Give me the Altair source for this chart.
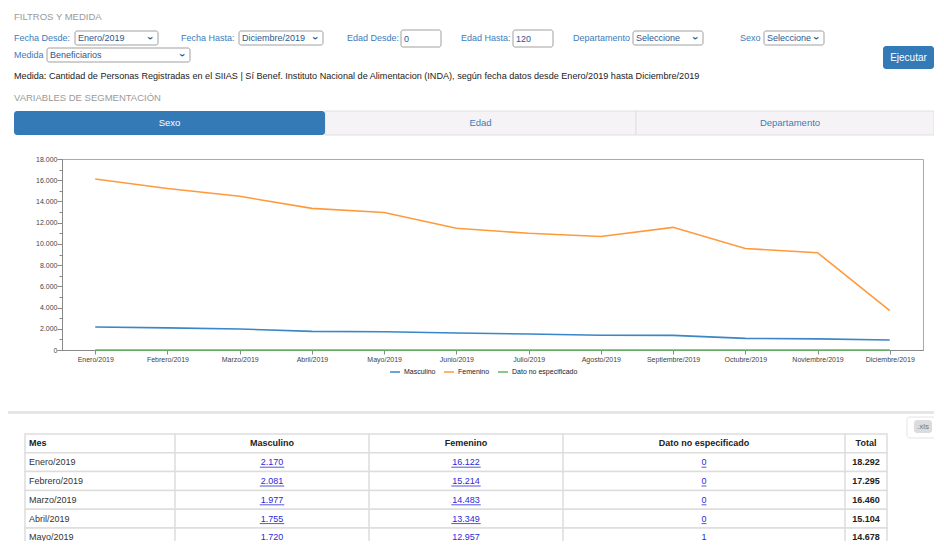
import altair as alt
import pandas as pd

# ---------------- data ----------------
meses = ["Enero/2019", "Febrero/2019", "Marzo/2019", "Abril/2019", "Mayo/2019", "Junio/2019",
         "Julio/2019", "Agosto/2019", "Septiembre/2019", "Octubre/2019", "Noviembre/2019", "Diciembre/2019"]
masculino = [2170, 2081, 1977, 1755, 1720, 1600, 1510, 1385, 1380, 1100, 1045, 945]
femenino = [16122, 15214, 14483, 13349, 12957, 11470, 11000, 10690, 11560, 9560, 9170, 3700]
dato_no_especificado = [0, 0, 0, 0, 1, 1, 1, 1, 1, 1, 1, 0]
series = ["Masculino", "Femenino", "Dato no especificado"]
colores = ["#3a86c6", "#ff9a3c", "#5cb85c"]
y_ticks = list(range(0, 18001, 1000))
filas_tabla = 5

FONT = "Liberation Sans"

rows = []
for i, m in enumerate(meses):
    for s, vals in zip(series, [masculino, femenino, dato_no_especificado]):
        rows.append({"mes": m, "serie": s, "valor": vals[i]})
df_long = pd.DataFrame(rows)


def fmt(v):
    return f"{v:,}".replace(",", ".")


tab = pd.DataFrame({
    "fila": meses,
    "masc": [fmt(v) for v in masculino],
    "fem": [fmt(v) for v in femenino],
    "dato": [fmt(v) for v in dato_no_especificado],
    "total": [fmt(a + b + c) for a, b, c in zip(masculino, femenino, dato_no_especificado)],
}).iloc[:filas_tabla]

one = pd.DataFrame({"k": [0]})

# ---------------- line chart ----------------
line = alt.Chart(df_long).mark_line(strokeWidth=1.6).encode(
    x=alt.X("mes:O", sort=meses, scale=alt.Scale(type="point", padding=0.46),
            axis=alt.Axis(title=None, labelAngle=0, labelFontSize=7, labelColor="#444",
                          labelFont=FONT, tickColor="#888", tickSize=4, domainColor="#888",
                          labelPadding=1, grid=False, labelOverlap=False)),
    y=alt.Y("valor:Q", scale=alt.Scale(domain=[0, 18000], nice=False),
            axis=alt.Axis(title=None, values=y_ticks, grid=False, labelOverlap=False,
                          labelExpr="datum.value % 2000 === 0 ? replace(format(datum.value, ','), ',', '.') : ''",
                          tickSize={"condition": {"test": "datum.value % 2000 === 0", "value": 5}, "value": 3},
                          labelFontSize=7, labelColor="#444", labelFont=FONT,
                          domainColor="#888", tickColor="#888", labelPadding=0)),
    color=alt.Color("serie:N", sort=series, scale=alt.Scale(domain=series, range=colores),
                    legend=alt.Legend(orient="none", legendX=327, legendY=207, direction="horizontal",
                                      title=None, symbolType="stroke", symbolStrokeWidth=1.5,
                                      symbolSize=100, labelFontSize=7, labelFont=FONT,
                                      labelColor="#222", columnPadding=5, labelOffset=3)),
    order=alt.Order("serie:N"),
)

layers = [line]


def box(x0, x1, y0, y1, fill, stroke=None, sw=1.0, cr=0):
    kw = dict(fill=fill, cornerRadius=cr)
    if stroke:
        kw.update(stroke=stroke, strokeWidth=sw)
    return alt.Chart(one).mark_rect(**kw).encode(
        x=alt.value(x0), x2=alt.value(x1), y=alt.value(y0), y2=alt.value(y1))


def txt(s, x, y, size=9, color="#222", align="left", weight="normal", font=FONT, angle=0):
    kw = dict(text=s, align=align, baseline="middle", fontSize=size, color=color,
              fontWeight=weight, font=font)
    if angle:
        kw["angle"] = angle
    return alt.Chart(one).mark_text(**kw).encode(x=alt.value(x), y=alt.value(y))


LBL = "#3a7cbd"
SEL = "#2a5890"
GRAY = "#9a9a9a"

# header
layers.append(txt("FILTROS Y MEDIDA", -48, -142, size=9.5, color=GRAY))
r1 = -121
layers.append(txt("Fecha Desde:", -48, r1, size=9, color=LBL))
layers.append(txt("Fecha Hasta:", 119, r1, size=9, color=LBL))
layers.append(txt("Edad Desde:", 285, r1, size=9, color=LBL))
layers.append(txt("Edad Hasta:", 399, r1, size=9, color=LBL))
layers.append(txt("Departamento", 511, r1, size=9, color=LBL))
layers.append(txt("Sexo", 678, r1, size=9, color=LBL))


def select(x0, x1, y0, y1, label, chevron=True):
    out = [box(x0, x1, y0, y1, "white", "#a0a0a0", 1, 2),
           txt(label, x0 + 3, (y0 + y1) / 2, size=9, color=SEL)]
    if chevron:
        out.append(txt("›", x1 - 8, (y0 + y1) / 2, size=11, color=SEL, align="center",
                       weight="bold", angle=90))
    return out


layers += select(13, 96, -128, -114, "Enero/2019")
layers += select(177, 261, -128, -114, "Diciembre/2019")
layers += select(339, 379, -129, -112, "0", chevron=False)
layers += select(451, 491, -129, -112, "120", chevron=False)
layers += select(571, 641, -128, -114, "Seleccione")
layers += select(702, 762, -128, -114, "Seleccione")

layers.append(txt("Medida", -48, -104, size=9, color=LBL))
layers += select(-15, 128, -111, -97, "Beneficiarios")

layers.append(box(821, 872, -113, -90, "#337ab7", cr=3))
layers.append(txt("Ejecutar", 846.5, -101.5, size=10, color="white", align="center"))

layers.append(txt("Medida: Cantidad de Personas Registradas en el SIIAS | Sí Benef. Instituto Nacional de "
                  "Alimentacion (INDA), según fecha datos desde Enero/2019 hasta Diciembre/2019",
                  -48, -83, size=9.1, color="#222"))
layers.append(txt("VARIABLES DE SEGMENTACIÓN", -48, -61, size=9.5, color=GRAY))

# tabs
layers.append(box(263, 574, -48, -24, "#f6f3f6", "#e2dfe2", 1))
layers.append(box(574, 872, -48, -24, "#f6f3f6", "#e2dfe2", 1))
layers.append(box(-48, 263, -48, -24, "#337ab7", cr=3))
layers.append(txt("Sexo", 107.5, -36, size=9.5, color="white", align="center"))
layers.append(txt("Edad", 418.5, -36, size=9.5, color=LBL, align="center"))
layers.append(txt("Departamento", 728, -36, size=9.5, color=LBL, align="center"))

# separator and xls button
layers.append(box(-54, 872, 252, 255, "#e6e6e6"))
layers.append(box(845, 874, 258, 279, "white", "#e4e4e4", 1, 3))
layers.append(box(852, 870, 261, 274, "#dcdcdc", cr=3))
layers.append(txt(".xls", 861, 267.5, size=8, color="#777", align="center"))

# ---------------- table ----------------
T_TOP = 275
STEP = 18.8
row_scale = alt.Scale(domain=["Mes"] + meses[:filas_tabla],
                      range=[T_TOP, T_TOP + STEP * (filas_tabla + 1)],
                      paddingInner=0, paddingOuter=0)
hdr = pd.DataFrame({"fila": ["Mes"]})
tab_rows = pd.concat([hdr, tab[["fila"]]], ignore_index=True)

layers.append(alt.Chart(tab_rows).mark_rect(fill="white", stroke="#dddddd", strokeWidth=1.5).encode(
    y=alt.Y("fila:N", scale=row_scale, axis=None), x=alt.value(-37), x2=alt.value(825)))
for cx in [113, 307, 501, 783]:
    layers.append(alt.Chart(one).mark_rule(color="#dddddd", strokeWidth=1.5).encode(
        x=alt.value(cx), y=alt.value(T_TOP), y2=alt.value(T_TOP + STEP * (filas_tabla + 1))))

hy = T_TOP + STEP / 2
layers.append(txt("Mes", -33, hy, size=9, weight="bold", color="#222"))
layers.append(txt("Masculino", 210, hy, size=9, weight="bold", color="#222", align="center"))
layers.append(txt("Femenino", 404, hy, size=9, weight="bold", color="#222", align="center"))
layers.append(txt("Dato no especificado", 642, hy, size=9, weight="bold", color="#222", align="center"))
layers.append(txt("Total", 804, hy, size=9, weight="bold", color="#222", align="center"))

ypos = alt.Y("fila:N", scale=row_scale, axis=None)
layers.append(alt.Chart(tab).mark_text(align="left", baseline="middle", fontSize=9, font=FONT,
                                       color="#333").encode(
    x=alt.value(-33), y=ypos, text="fila:N"))
LINK = "#2a2ad8"
for col, cx in [("masc", 210), ("fem", 404), ("dato", 642)]:
    layers.append(alt.Chart(tab).mark_text(align="center", baseline="middle", fontSize=9, font=FONT,
                                           color=LINK).encode(x=alt.value(cx), y=ypos, text=f"{col}:N"))
    layers.append(alt.Chart(tab).transform_calculate(
        u0=f"{cx} - length(datum.{col}) * 2.45", u1=f"{cx} + length(datum.{col}) * 2.45"
    ).mark_rule(color=LINK, strokeWidth=0.8).encode(
        x=alt.X("u0:Q", scale=None, axis=None), x2="u1:Q", y=ypos,
        yOffset=alt.value(STEP / 2 + 5)))
layers.append(alt.Chart(tab).mark_text(align="center", baseline="middle", fontSize=9, font=FONT,
                                       fontWeight="bold", color="#222").encode(
    x=alt.value(804), y=ypos, text="total:N"))

chart = alt.layer(*layers).properties(
    width=861, height=191,
    autosize=alt.AutoSizeParams(type="none"),
    padding={"left": 54, "top": 151, "right": 11, "bottom": 191},
).resolve_scale(x="independent", y="independent").configure_view(stroke="#aaaaaa")

chart.save("out.html", embed_options={"renderer": "svg", "actions": False})
